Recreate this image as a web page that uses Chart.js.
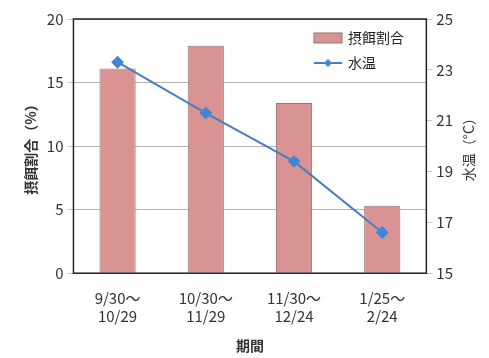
<!DOCTYPE html>
<html>
<head>
<meta charset="utf-8">
<script src="https://cdn.jsdelivr.net/npm/chart.js@4/dist/chart.umd.min.js"></script>
<style>
  html, body { margin: 0; padding: 0; background: #fff; }
  #wrap { width: 489px; height: 358px; }
</style>
</head>
<body>
<div id="wrap"><canvas id="c" width="489" height="358"></canvas></div>
<script>
const periods = [['9/30～', '10/29'], ['10/30～', '11/29'], ['11/30～', '12/24'], ['1/25～', '2/24']];
const feedRatio = [16.1, 17.9, 13.4, 5.3];
const waterTemp = [23.3, 21.3, 19.4, 16.6];
const leftTicks = [0, 5, 10, 15, 20];
const rightTicks = [15, 17, 19, 21, 23, 25];

const FONT = "'Noto Sans CJK JP', 'Noto Sans', sans-serif";
const BAR_FILL = '#d99393';
const BAR_EDGE = '#9a7373';
const LINE = '#4a7cc0';
const MARK = '#3f86d8';

const frameAndLegend = {
  id: 'frameAndLegend',
  afterDraw(chart) {
    const { ctx, chartArea: a } = chart;
    const lineSet = chart.data.datasets[0];
    const barSet = chart.data.datasets[1];
    ctx.save();
    // plot frame
    ctx.strokeStyle = '#222';
    ctx.lineWidth = 1.5;
    ctx.strokeRect(a.left, a.top, a.right - a.left, a.bottom - a.top);

    // legend inside the plot, top right
    const lx = 314, ly = 38;
    ctx.font = '14px ' + FONT;
    ctx.textBaseline = 'middle';
    ctx.fillStyle = BAR_FILL;
    ctx.fillRect(lx, ly - 5, 28, 10);
    ctx.strokeStyle = BAR_EDGE;
    ctx.lineWidth = 1;
    ctx.strokeRect(lx, ly - 5, 28, 10);
    ctx.fillStyle = '#222';
    ctx.fillText(barSet.label, lx + 34, ly);

    const ly2 = ly + 25;
    ctx.strokeStyle = LINE;
    ctx.lineWidth = 2;
    ctx.beginPath();
    ctx.moveTo(lx, ly2);
    ctx.lineTo(lx + 28, ly2);
    ctx.stroke();
    ctx.fillStyle = MARK;
    ctx.beginPath();
    ctx.moveTo(lx + 14, ly2 - 4);
    ctx.lineTo(lx + 18, ly2);
    ctx.lineTo(lx + 14, ly2 + 4);
    ctx.lineTo(lx + 10, ly2);
    ctx.closePath();
    ctx.fill();
    ctx.fillStyle = '#222';
    ctx.fillText(lineSet.label, lx + 34, ly2);

    // right axis title, reading bottom to top
    const mid = (a.top + a.bottom) / 2;
    ctx.translate(469, mid);
    ctx.rotate(-Math.PI / 2);
    ctx.textAlign = 'center';
    ctx.font = '14px ' + FONT;
    ctx.fillStyle = '#333';
    ctx.fillText('水温（°C）', 0, 0);
    ctx.restore();
  }
};

new Chart(document.getElementById('c'), {
  data: {
    labels: periods,
    datasets: [
      {
        type: 'line',
        label: '水温',
        data: waterTemp,
        yAxisID: 'yT',
        borderColor: LINE,
        borderWidth: 2,
        pointStyle: 'rectRot',
        pointRadius: 5,
        pointBackgroundColor: MARK,
        pointBorderColor: MARK,
        order: 0
      },
      {
        type: 'bar',
        label: '摂餌割合',
        data: feedRatio,
        yAxisID: 'y',
        backgroundColor: BAR_FILL,
        borderColor: BAR_EDGE,
        borderWidth: 1,
        barPercentage: 0.41,
        categoryPercentage: 1,
        order: 1
      }
    ]
  },
  options: {
    responsive: false,
    animation: false,
    layout: { padding: { left: 18, right: 32, top: 19, bottom: 0 } },
    plugins: { legend: { display: false }, tooltip: { enabled: false } },
    scales: {
      x: {
        grid: { display: false },
        border: { display: false },
        ticks: { color: '#333', font: { family: FONT, size: 15 }, maxRotation: 0, padding: 8 },
        title: { display: true, text: '期間', color: '#333', font: { family: FONT, size: 14, weight: 'bold' }, padding: { top: 4 } }
      },
      y: {
        position: 'left',
        min: 0,
        max: 20,
        afterBuildTicks: (s) => { s.ticks = leftTicks.map((v) => ({ value: v })); },
        grid: { color: '#b4b4b4', tickLength: 6, tickColor: '#c8c8c8' },
        border: { display: false },
        ticks: { color: '#333', font: { family: FONT, size: 15 }, padding: 4 },
        title: { display: true, text: '摂餌割合（%）', color: '#333', font: { family: FONT, size: 14, weight: 'bold' }, padding: { bottom: 4 } }
      },
      yT: {
        position: 'right',
        min: 15,
        max: 25,
        afterBuildTicks: (s) => { s.ticks = rightTicks.map((v) => ({ value: v })); },
        grid: { drawOnChartArea: false, tickLength: 6, tickColor: '#c8c8c8' },
        border: { display: false },
        ticks: { color: '#333', font: { family: FONT, size: 15 }, padding: 4 }
      }
    }
  },
  plugins: [frameAndLegend]
});
</script>
</body>
</html>
